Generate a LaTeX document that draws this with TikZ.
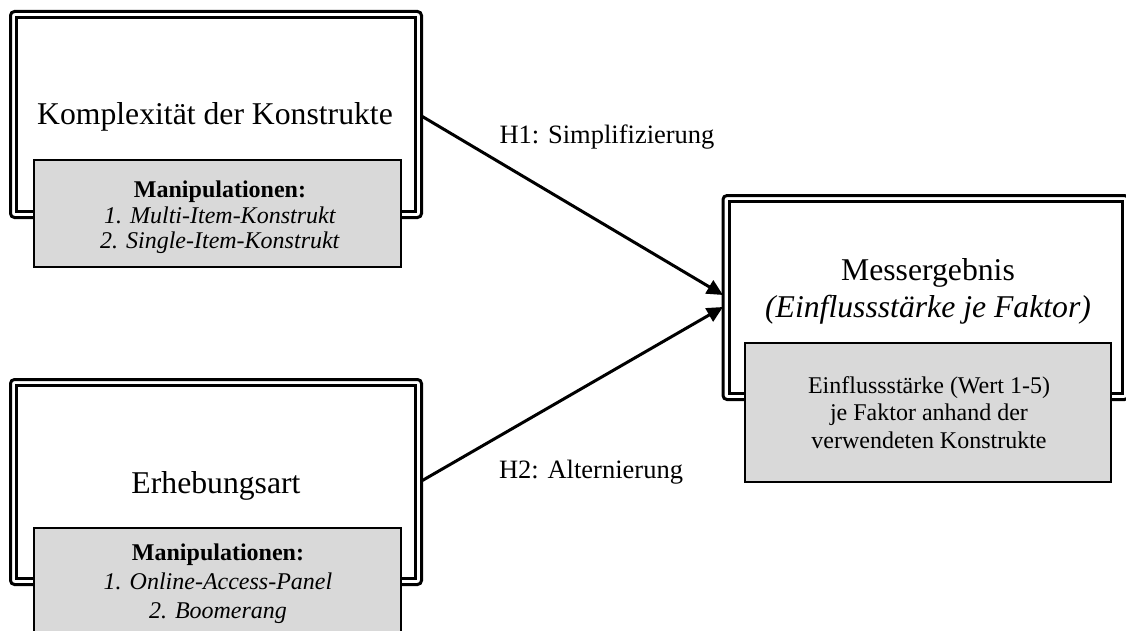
\documentclass[tikz,border=0pt]{standalone}
\usepackage{fontspec}
\setmainfont{Liberation Serif}
\usetikzlibrary{arrows.meta,calc}
\definecolor{panelgrey}{HTML}{D9D9D9}
\begin{document}
\begin{tikzpicture}[x=1pt,y=-1pt,
  frame/.style={draw, line width=3pt, rounded corners=4pt, inner sep=0pt, outer sep=0pt},
  innerframe/.style={draw, line width=3pt},
  panel/.style={draw, line width=2pt, fill=panelgrey, inner sep=0pt, outer sep=0pt},
  title/.style={font=\fontsize{31.7}{37}\selectfont, align=center, inner sep=0pt},
  hyp/.style={font=\fontsize{26.5}{32}\selectfont, inner sep=0pt},
  link/.style={line width=3pt, -{Triangle[length=16pt,width=15pt]}}
]
\useasboundingbox (0,0) rectangle (1126,631);

% double frames of the three constructs
\node[frame, minimum width=411pt, minimum height=206pt] (k1) at (216,114.5) {};
\draw[innerframe] ([shift={(6,6)}]k1.north west) rectangle ([shift={(-6,-6)}]k1.south east);

\node[frame, minimum width=411pt, minimum height=205pt] (k2) at (216,482) {};
\draw[innerframe] ([shift={(6,6)}]k2.north west) rectangle ([shift={(-6,-6)}]k2.south east);

\node[frame, minimum width=405.5pt, minimum height=204pt] (m) at (925.75,297.5) {};
\draw[innerframe] ([shift={(6,6)}]m.north west) rectangle ([shift={(-6,-6)}]m.south east);

% hypotheses
\draw[link] ($(k1.east)+(0,1.5)$) -- ($(m.west)+(0,-2.5)$);
\draw[link] ($(k2.east)+(0,-1)$) -- ($(m.west)+(0,9.5)$);
\node[hyp] (h1) at (607,137) {H1: Simplifizierung};
\node[hyp] (h2) at (591,472) {H2: Alternierung};

% grey panels
\node[panel, minimum width=367pt, minimum height=106.5pt] (p1) at (217.5,213.75) {};
\node[panel, minimum width=367pt, minimum height=112.5pt] (p2) at (217.5,583.75) {};
\node[panel, minimum width=366pt, minimum height=139.5pt] (p3) at (928,412.25) {};

% titles
\node[title] (t1) at (215,117) {Komplexität der Konstrukte};
\node[title] (t2) at (216,486) {Erhebungsart};
\node[title] (t3) at (928,291.5) {Messergebnis\\\textit{(Einflussstärke je Faktor)}};

% panel texts
\node[align=center, inner sep=0pt, font=\fontsize{24}{25.5}\selectfont] (pt1) at (220,217.5)
  {\textbf{Manipulationen:}\\\textit{1. Multi-Item-Konstrukt}\\\textit{2. Single-Item-Konstrukt}};
\node[align=center, inner sep=0pt, font=\fontsize{24}{29}\selectfont] (pt2) at (218,584)
  {\textbf{Manipulationen:}\\\textit{1. Online-Access-Panel}\\\textit{2. Boomerang}};
\node[align=center, inner sep=0pt, font=\fontsize{24}{27.5}\selectfont] (pt3) at (929,412.5)
  {Einflussstärke (Wert 1-5)\\je Faktor anhand der\\verwendeten Konstrukte};
\end{tikzpicture}
\end{document}
